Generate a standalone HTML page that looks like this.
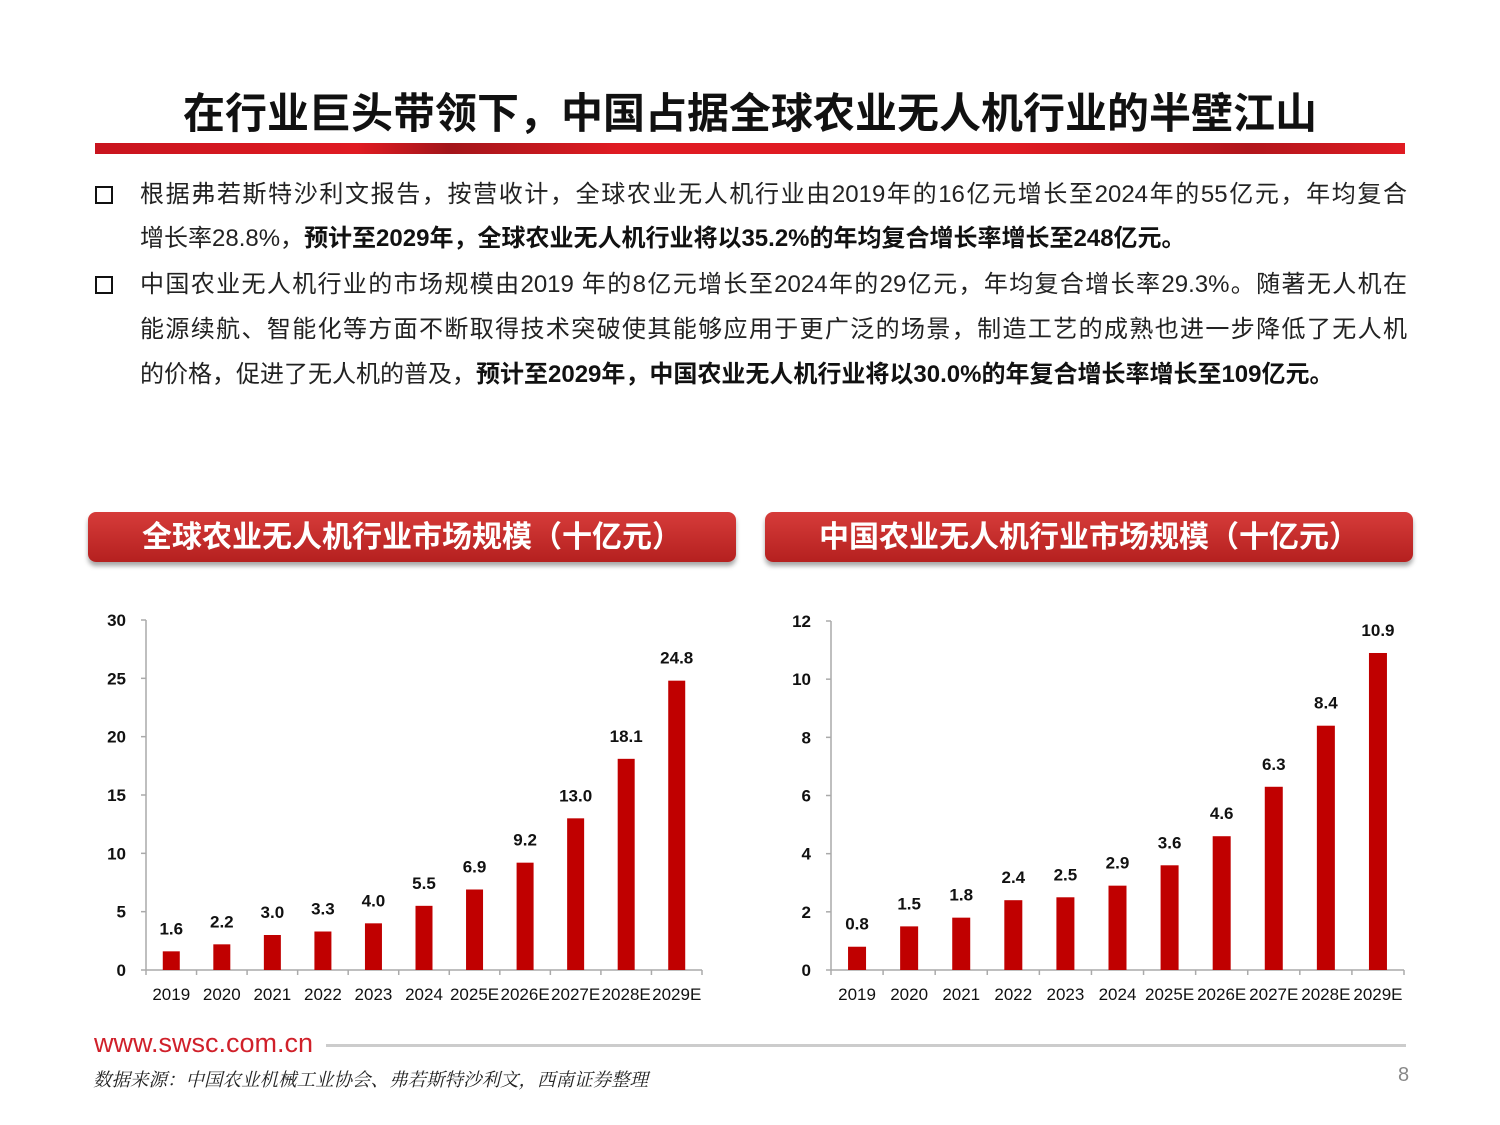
<!DOCTYPE html>
<html><head><meta charset="utf-8">
<style>
body{margin:0;width:1500px;height:1125px;background:#fff;position:relative;overflow:hidden;font-family:"Liberation Sans","Noto Sans CJK SC",sans-serif;}
.abs{position:absolute;}
.title{left:0;width:1500px;top:80px;text-align:center;font-size:42px;font-weight:bold;color:#111;}
.bar{left:95px;top:143px;width:1310px;height:11px;background:linear-gradient(90deg,#c8141e 0%,#e01b22 20%,#a3151a 27%,#e01b22 40%,#e01b22 70%,#b2161c 88%,#e01b22 100%);}
.p{left:140px;width:1267px;font-size:24px;color:#222;height:45px;line-height:45px;white-space:nowrap;}
.j{text-align:justify;text-align-last:justify;}
.bul{width:14px;height:14px;border:2.5px solid #111;left:95px;}
.hdr{height:50px;border-radius:8px;background:linear-gradient(#d63c3a,#b5201f);box-shadow:0 4px 5px rgba(0,0,0,0.35);color:#fff;font-size:30px;font-weight:bold;text-align:center;line-height:52px;}
b{color:#111;}
</style></head><body>
<div class="abs title">在行业巨头带领下，中国占据全球农业无人机行业的半壁江山</div>
<div class="abs bar"></div>
<div class="abs bul" style="top:186px"></div>
<div class="abs p j" style="top:172px">根据弗若斯特沙利文报告，按营收计，全球农业无人机行业由2019年的16亿元增长至2024年的55亿元，年均复合</div>
<div class="abs p" style="top:216px">增长率28.8%，<b>预计至2029年，全球农业无人机行业将以35.2%的年均复合增长率增长至248亿元。</b></div>
<div class="abs bul" style="top:276px"></div>
<div class="abs p j" style="top:262px">中国农业无人机行业的市场规模由2019 年的8亿元增长至2024年的29亿元，年均复合增长率29.3%。随著无人机在</div>
<div class="abs p j" style="top:307px">能源续航、智能化等方面不断取得技术突破使其能够应用于更广泛的场景，制造工艺的成熟也进一步降低了无人机</div>
<div class="abs p" style="top:352px">的价格，促进了无人机的普及，<b>预计至2029年，中国农业无人机行业将以30.0%的年复合增长率增长至109亿元。</b></div>
<div class="abs hdr" style="left:88px;top:512px;width:648px">全球农业无人机行业市场规模（十亿元）</div>
<div class="abs hdr" style="left:765px;top:512px;width:648px">中国农业无人机行业市场规模（十亿元）</div>
<svg class="abs" style="left:0;top:0" width="1500" height="1125" id="charts"></svg>
<div class="abs" style="left:94px;top:1028px;font-size:27px;color:#d0202a;">www.swsc.com.cn</div>
<div class="abs" style="left:326px;top:1044px;width:1080px;height:3px;background:#ccc"></div>
<div class="abs" style="left:93px;top:1066px;font-size:18.5px;font-style:italic;color:#222;font-family:'Liberation Serif','Noto Serif CJK SC',serif">数据来源：中国农业机械工业协会、弗若斯特沙利文，西南证券整理</div>
<div class="abs" style="left:1398px;top:1064px;font-size:20px;color:#888">8</div>
<script>
const categories=["2019","2020","2021","2022","2023","2024","2025E","2026E","2027E","2028E","2029E"];
const globalValues=[1.6,2.2,3.0,3.3,4.0,5.5,6.9,9.2,13.0,18.1,24.8];
const chinaValues=[0.8,1.5,1.8,2.4,2.5,2.9,3.6,4.6,6.3,8.4,10.9];
const globalTicks=[0,5,10,15,20,25,30];
const chinaTicks=[0,2,4,6,8,10,12];
const svg=document.getElementById('charts');
const NS='http://www.w3.org/2000/svg';
function mk(tag,attrs,txt){const e=document.createElementNS(NS,tag);for(const k in attrs)e.setAttribute(k,attrs[k]);if(txt!==undefined)e.textContent=txt;svg.appendChild(e);return e;}
function draw(prefix,vals,ticks,x0,x1,y0,ytop,bw){
  const max=ticks[ticks.length-1];
  const ys=v=>y0-(v/max)*(y0-ytop);
  const step=(x1-x0)/categories.length;
  const xs=i=>x0+step*(i+0.5);
  let a=mk('line',{x1:x0,y1:ytop,x2:x0,y2:y0,stroke:'#aaa','stroke-width':1.5});
  
  a=mk('line',{x1:x0,y1:y0,x2:x1,y2:y0,stroke:'#aaa','stroke-width':1.5});
  
  ticks.forEach(t=>{
    mk('line',{x1:x0-5,y1:ys(t),x2:x0,y2:ys(t),stroke:'#aaa','stroke-width':1.5});
    const l=mk('text',{x:x0-20,y:ys(t)+6,'text-anchor':'end','font-size':17,'font-weight':'bold',fill:'#111'},t);
    
  });
  for(let i=0;i<=categories.length;i++)mk('line',{x1:x0+step*i,y1:y0,x2:x0+step*i,y2:y0+5,stroke:'#aaa','stroke-width':1.5});
  vals.forEach((v,i)=>{
    const r=mk('rect',{x:xs(i)-bw/2,y:ys(v),width:bw,height:y0-ys(v),fill:'#c00000'});
    
    const t=mk('text',{x:xs(i),y:ys(v)-17,'text-anchor':'middle','font-size':17,'font-weight':'bold',fill:'#111'},v.toFixed(1));
    
    const c=mk('text',{x:xs(i),y:y0+30,'text-anchor':'middle','font-size':17,fill:'#111'},categories[i]);
    
  });
}
draw('global',globalValues,globalTicks,146,702,970,620,17);
draw('china',chinaValues,chinaTicks,831,1404,970,621,18);
</script>
</body></html>
